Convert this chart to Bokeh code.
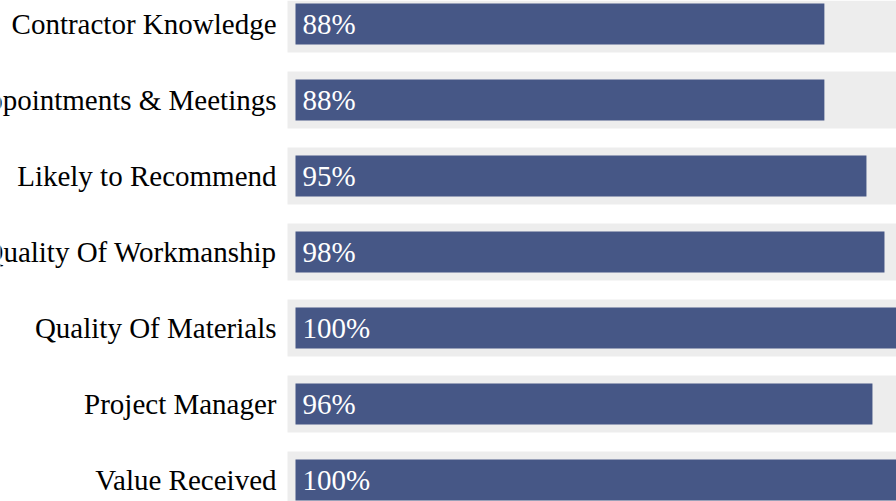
from bokeh.plotting import figure
from bokeh.models import ColumnDataSource, Range1d
from bokeh.core.properties import value
from bokeh.embed import file_html
from bokeh.resources import INLINE

categories = ["Contractor Knowledge", "Appointments & Meetings", "Likely to Recommend",
              "Quality Of Workmanship", "Quality Of Materials", "Project Manager", "Value Received"]
scores = [88, 88, 95, 98, 100, 96, 100]

W, H = 896, 501
bar_left_px = 295.0
px_per_unit = (W - bar_left_px) / 100.0
row_pitch = 76.0
first_row_px = 23.5

rows = list(range(len(categories)))
labels = [f"{v}%" for v in scores]
source = ColumnDataSource(dict(row=rows, cat=categories, score=scores, label=labels))

x_start = -bar_left_px / px_per_unit
x_end = (W - bar_left_px) / px_per_unit
y_top = -first_row_px / row_pitch
y_bottom = (H - first_row_px) / row_pitch

p = figure(width=W, height=H, output_backend="svg", toolbar_location=None,
           x_range=Range1d(x_start, x_end), y_range=Range1d(y_bottom, y_top),
           min_border=0, outline_line_color=None)
p.axis.visible = False
p.grid.visible = False
p.background_fill_color = "white"
p.border_fill_color = "white"

band_left = -8.0 / px_per_unit
p.hbar(y="row", left=band_left, right=x_end + 10, height=57.0 / row_pitch,
       source=source, fill_color="#ededed", line_color=None)
p.hbar(y="row", left=0, right="score", height=41.0 / row_pitch,
       source=source, fill_color="#465786", line_color=None)

p.text(x=0, y="row", text="cat", source=source, x_offset=-19,
       text_align="right", text_baseline="middle", text_color="black",
       text_font=value("Liberation Serif"), text_font_size="29px")
p.text(x=0, y="row", text="label", source=source, x_offset=7,
       text_align="left", text_baseline="middle", text_color="white",
       text_font=value("Liberation Serif"), text_font_size="29px")

open("out.html", "w").write(file_html(p, INLINE))
